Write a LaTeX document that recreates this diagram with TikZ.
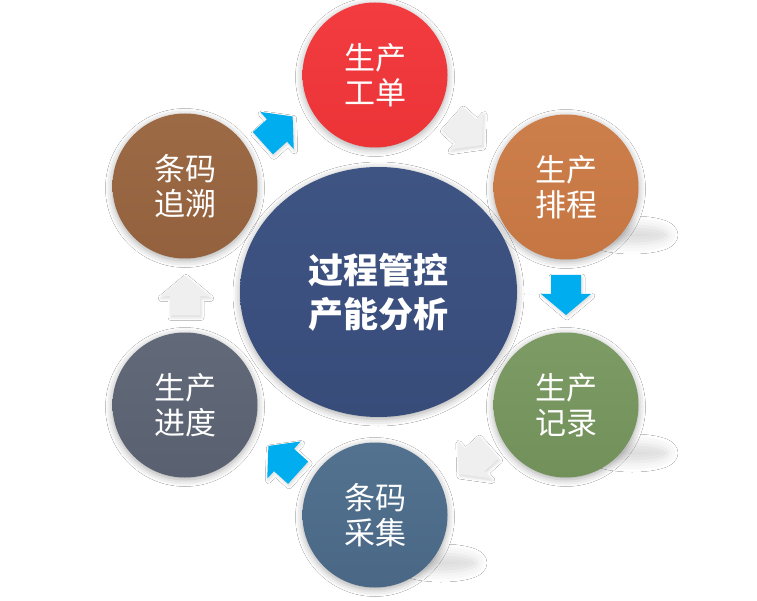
\documentclass[tikz,border=0pt]{standalone}
\usepackage{fontspec}
\setmainfont{Noto Sans CJK SC}
\usetikzlibrary{shapes.geometric,shadows.blur,calc}
\definecolor{cred}{HTML}{F23C40}
\definecolor{cred2}{HTML}{EC3437}
\definecolor{corange}{HTML}{CD7F4B}
\definecolor{corange2}{HTML}{C57643}
\definecolor{cgreen}{HTML}{7D9B64}
\definecolor{cgreen2}{HTML}{72905A}
\definecolor{csteel}{HTML}{52728F}
\definecolor{csteel2}{HTML}{4A6886}
\definecolor{cgray}{HTML}{626A7A}
\definecolor{cgray2}{HTML}{596070}
\definecolor{cbrown}{HTML}{9C6A45}
\definecolor{cbrown2}{HTML}{93613D}
\definecolor{cnavy}{HTML}{3E5483}
\definecolor{cnavy2}{HTML}{384C7A}
\definecolor{cblue}{HTML}{00AEEF}
\definecolor{clight}{HTML}{EFEFEF}
\begin{document}
\begin{tikzpicture}[x=1pt,y=-1pt,
  glow/.style={blur shadow={shadow xshift=0pt,shadow yshift=-2pt,shadow blur radius=7pt,shadow opacity=35}},
  bubble/.style={circle,minimum size=145pt,inner sep=0pt,text=white,align=center,
    font=\fontsize{31}{35}\selectfont,glow},
  hub/.style={ellipse,minimum width=277pt,minimum height=250pt,inner sep=0pt,text=white,align=center,
    font=\bfseries\fontsize{35}{44}\selectfont,glow},
  arrowshadow/.style={blur shadow={shadow xshift=1pt,shadow yshift=-2pt,shadow blur radius=3pt,shadow opacity=15}},
  barrow/.pic={
    \path[pic actions,arrowshadow]
      (-19,-15) -- (0,-15) -- (0,-25) -- (21,0) -- (0,25) -- (0,15) -- (-19,15) -- cycle;
  },
  bluearrow/.style={fill=cblue},
  greyarrow/.style={fill=clight}
]
\useasboundingbox (0,0) rectangle (757,601);
\fill[white] (0,0) rectangle (757,601);
% cast shadows
\foreach \cx/\cy in {566/187,566/405,375/515}{
  \path[blur shadow={shadow xshift=0pt,shadow yshift=0pt,shadow blur radius=10pt,shadow opacity=14}]
    (\cx+66,\cy+48) ellipse (36 and 9);
}
% centre
\node[hub,top color=cnavy,bottom color=cnavy2] (c) at (378.5,292) {过程管控\\产能分析};
% circles
\node[bubble,top color=cred,bottom color=cred2] (n1) at (375,75) {生产\\工单};
\node[bubble,top color=corange,bottom color=corange2] (n2) at (566,187) {生产\\排程};
\node[bubble,top color=cgreen,bottom color=cgreen2] (n3) at (566,405) {生产\\记录};
\node[bubble,top color=csteel,bottom color=csteel2] (n4) at (375,515) {条码\\采集};
\node[bubble,top color=cgray,bottom color=cgray2] (n5) at (185,405) {生产\\进度};
\node[bubble,top color=cbrown,bottom color=cbrown2] (n6) at (185,186) {条码\\追溯};
% block arrows
\coordinate (a1) at ($(n6)!0.5!(n1)+(-3,0)$);
\coordinate (a2) at ($(n1)!0.5!(n2)+(-4,0)$);
\coordinate (a3) at ($(n2)!0.5!(n3)+(0,-2)$);
\coordinate (a4) at ($(n3)!0.5!(n4)+(4,0)$);
\coordinate (a5) at ($(n4)!0.5!(n5)+(4,0)$);
\coordinate (a6) at ($(n5)!0.5!(n6)+(0,1)$);
\pic[bluearrow,rotate=42] at (a1) {barrow};
\pic[greyarrow,rotate=-42] at (a2) {barrow};
\pic[bluearrow,rotate=-90] at (a3) {barrow};
\pic[greyarrow,rotate=-138] at (a4) {barrow};
\pic[bluearrow,rotate=138] at (a5) {barrow};
\pic[greyarrow,rotate=90] at (a6) {barrow};
\end{tikzpicture}
\end{document}
